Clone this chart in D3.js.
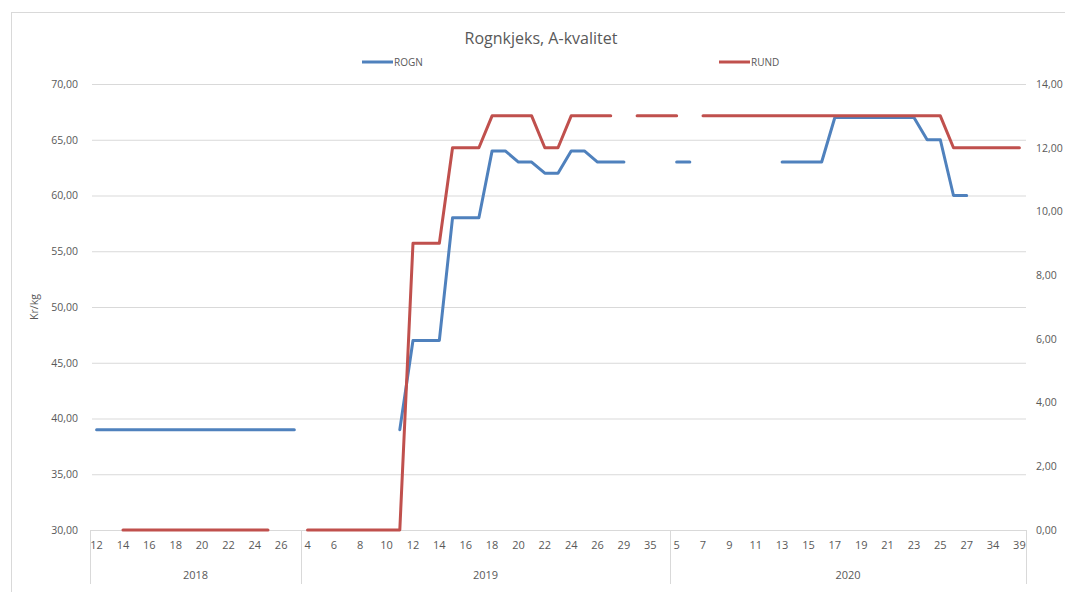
<!DOCTYPE html>
<html>
<head>
<meta charset="utf-8">
<script src="https://cdn.jsdelivr.net/npm/d3@7"></script>
<style>
  body { margin: 0; background: white; }
  text { font-family: "Open Sans", Lato, sans-serif; fill: #595959; }
</style>
</head>
<body>
<div id="outer"></div>
<script>

////////// DATA //////////
const years = ['2018', '2019', '2020'];
const weeks2018 = [12, 13, 14, 15, 16, 17, 18, 19, 20, 21, 22, 23, 24, 25, 26, 27];
const weeks2019 = [4, 5, 6, 7, 8, 9, 10, 11, 12, 13, 14, 15, 16, 17, 18, 19, 20, 21, 22, 23, 24, 25, 26, 28, 29, 33, 35, 36];
const weeks2020 = [5, 6, 7, 8, 9, 10, 11, 12, 13, 14, 15, 16, 17, 18, 19, 20, 21, 22, 23, 24, 25, 26, 27, 31, 34, 37, 39];

// ROGN, Kr/kg (left axis)
const rogn2018 = [39, 39, 39, 39, 39, 39, 39, 39, 39, 39, 39, 39, 39, 39, 39, 39];
const rogn2019 = [null, null, null, null, null, null, null, 39, 47, 47, 47, 58, 58, 58, 64, 64, 63, 63, 62, 62, 64, 64, 63, 63, 63, null, null, null];
const rogn2020 = [63, 63, null, null, null, null, null, null, 63, 63, 63, 63, 67, 67, 67, 67, 67, 67, 67, 65, 65, 60, 60, null, null, null, null];

// RUND (right axis)
const rund2018 = [null, null, 0, 0, 0, 0, 0, 0, 0, 0, 0, 0, 0, 0, null, null];
const rund2019 = [0, 0, 0, 0, 0, 0, 0, 0, 9, 9, 9, 12, 12, 12, 13, 13, 13, 13, 12, 12, 13, 13, 13, 13, null, 13, 13, 13];
const rund2020 = [13, null, 13, 13, 13, 13, 13, 13, 13, 13, 13, 13, 13, 13, 13, 13, 13, 13, 13, 13, 13, 12, 12, 12, 12, 12, 12];

const leftTicks = [30, 35, 40, 45, 50, 55, 60, 65, 70];
const rightTicks = [0, 2, 4, 6, 8, 10, 12, 14];


////////// CALCULATED DEFS //////////
const categories = [];
[weeks2018, weeks2019, weeks2020].forEach((wks, yi) => {
	wks.forEach(w => categories.push({year: years[yi], week: w}));
});
const rognValues = [].concat(rogn2018, rogn2019, rogn2020);
const rundValues = [].concat(rund2018, rund2019, rund2020);
categories.forEach((c, i) => { c.index = i; c.rogn = rognValues[i]; c.rund = rundValues[i]; });

const width = 1065;
const height = 592;
const plot = {left: 90, right: 1026, top: 84, bottom: 530};

const blue = '#4f81bd';
const red = '#c0504d';
const gridColor = '#d9d9d9';

const locale = d3.formatLocale({decimal: ',', thousands: ' ', grouping: [3], currency: ['', ' kr']});
const fmt = locale.format('.2f');


////////// SCALES //////////
const x = d3.scaleBand()
	.domain(categories.map(c => c.index))
	.range([plot.left, plot.right]);
const yLeft = d3.scaleLinear().domain([30, 70]).range([plot.bottom, plot.top]);
const yRight = d3.scaleLinear().domain([0, 14]).range([plot.bottom, plot.top]);
const cx = i => x(i) + x.bandwidth() / 2;


////////// INITIALIZATION //////////
const svg = d3.select('#outer').append('svg')
	.attr('width', width)
	.attr('height', height);

svg.append('rect')
	.attr('width', width).attr('height', height)
	.attr('fill', 'white');

// chart border
svg.append('rect')
	.attr('x', 11.5).attr('y', 12.5)
	.attr('width', width).attr('height', height)
	.attr('fill', 'none')
	.attr('stroke', gridColor);


// GRIDLINES + LEFT AXIS //
const leftAxis = svg.append('g')
	.attr('transform', `translate(${plot.left},0)`)
	.call(d3.axisLeft(yLeft)
		.tickValues(leftTicks)
		.tickSize(-(plot.right - plot.left))
		.tickPadding(12)
		.tickFormat(fmt));
leftAxis.select('.domain').remove();
leftAxis.selectAll('.tick line')
	.attr('stroke', gridColor)
	.attr('x1', 2);
leftAxis.selectAll('.tick text')
	.style('font-size', '10.5px')
	.attr('fill', '#595959');

// RIGHT AXIS //
const rightAxis = svg.append('g')
	.attr('transform', `translate(${plot.right},0)`)
	.call(d3.axisRight(yRight)
		.tickValues(rightTicks)
		.tickSize(0)
		.tickPadding(10)
		.tickFormat(fmt));
rightAxis.select('.domain').remove();
rightAxis.selectAll('.tick text')
	.style('font-size', '10.5px')
	.attr('fill', '#595959');

// y axis title
svg.append('text')
	.attr('transform', `translate(38,${(plot.top + plot.bottom) / 2}) rotate(-90)`)
	.attr('text-anchor', 'middle')
	.style('font-size', '10.5px')
	.text('Kr/kg');


// X AXIS //
const xAxis = svg.append('g')
	.attr('transform', `translate(0,${plot.bottom})`)
	.call(d3.axisBottom(x)
		.tickValues(categories.filter(c => c.index % 2 === 0).map(c => c.index))
		.tickSize(0)
		.tickPadding(11)
		.tickFormat(i => categories[i].week));
xAxis.select('.domain').attr('stroke', gridColor);
xAxis.selectAll('.tick text')
	.style('font-size', '11px')
	.attr('fill', '#595959');

// year groups
const yearGroups = years.map(yr => {
	const idx = categories.filter(c => c.year === yr).map(c => c.index);
	return {year: yr, x0: x(idx[0]), x1: x(idx[idx.length - 1]) + x.bandwidth()};
});
svg.selectAll('.yearSep')
	.data([yearGroups[0].x0].concat(yearGroups.map(g => g.x1)))
	.enter().append('line')
	.attr('class', 'yearSep')
	.attr('x1', d => Math.round(d) + 0.5).attr('x2', d => Math.round(d) + 0.5)
	.attr('y1', plot.bottom).attr('y2', plot.bottom + 54)
	.attr('stroke', gridColor);
svg.selectAll('.yearLabel')
	.data(yearGroups)
	.enter().append('text')
	.attr('class', 'yearLabel')
	.attr('x', d => (d.x0 + d.x1) / 2)
	.attr('y', plot.bottom + 49)
	.attr('text-anchor', 'middle')
	.style('font-size', '11px')
	.text(d => d.year);


// LINES //
const rognLine = d3.line()
	.defined(d => d.rogn !== null)
	.x(d => cx(d.index))
	.y(d => yLeft(d.rogn));
const rundLine = d3.line()
	.defined(d => d.rund !== null)
	.x(d => cx(d.index))
	.y(d => yRight(d.rund));

svg.append('path')
	.datum(categories)
	.attr('d', rognLine)
	.attr('fill', 'none')
	.attr('stroke', blue)
	.attr('stroke-width', 3)
	.attr('stroke-linejoin', 'round')
	.attr('stroke-linecap', 'round');

svg.append('path')
	.datum(categories)
	.attr('d', rundLine)
	.attr('fill', 'none')
	.attr('stroke', red)
	.attr('stroke-width', 3)
	.attr('stroke-linejoin', 'round')
	.attr('stroke-linecap', 'round');


// TITLE + LEGEND //
svg.append('text')
	.attr('x', 541)
	.attr('y', 44)
	.attr('text-anchor', 'middle')
	.style('font-size', '16px')
	.text('Rognkjeks, A-kvalitet');

const legendItems = [
	{name: 'ROGN', color: blue, x: 362},
	{name: 'RUND', color: red, x: 719}
];
const legend = svg.selectAll('.legendItem')
	.data(legendItems)
	.enter().append('g')
	.attr('class', 'legendItem')
	.attr('transform', d => `translate(${d.x},62)`);
legend.append('line')
	.attr('x1', 0).attr('x2', 31)
	.attr('stroke', d => d.color)
	.attr('stroke-width', 3);
legend.append('text')
	.attr('x', 32)
	.attr('y', 3.5)
	.style('font-size', '10px')
	.text(d => d.name);

</script>
</body>
</html>
